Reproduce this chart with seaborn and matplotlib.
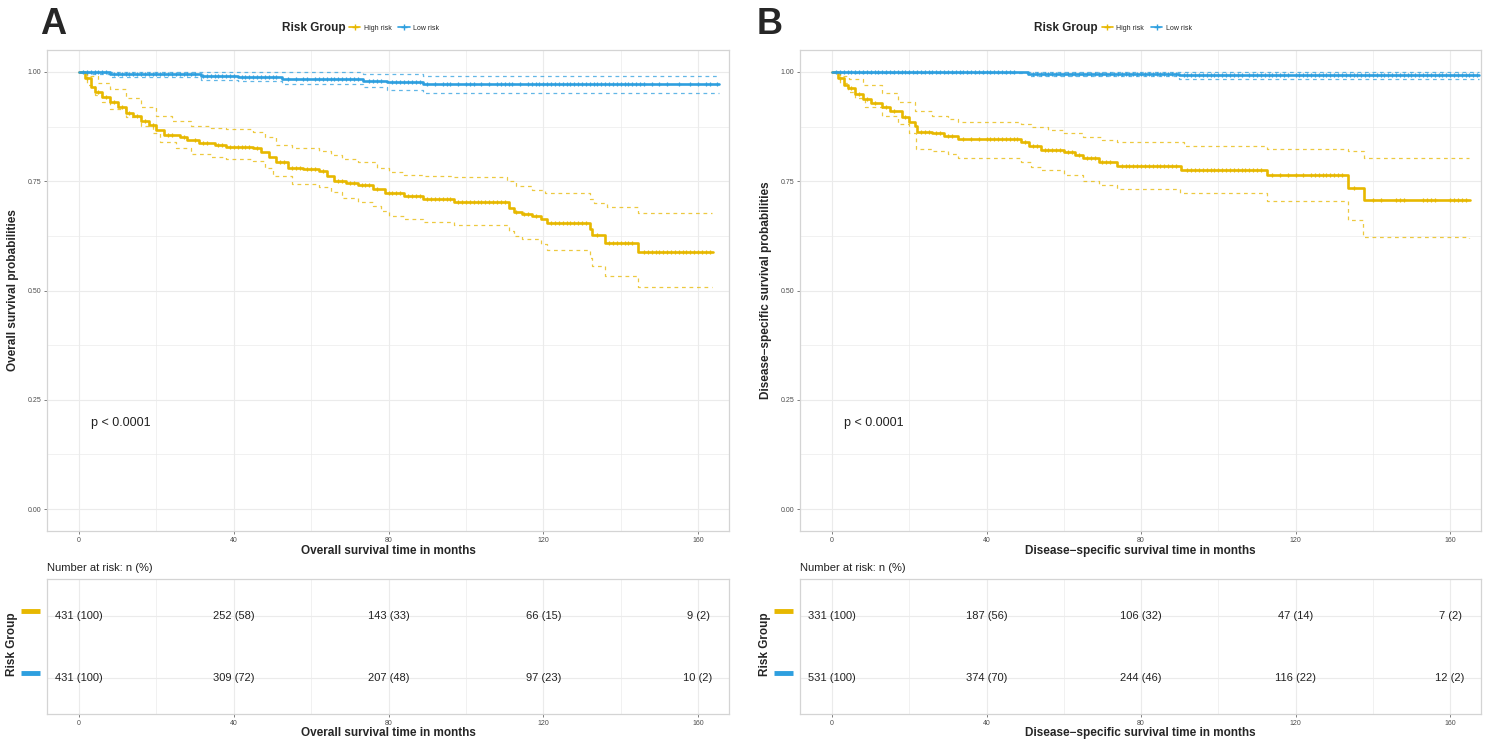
import numpy as np
import pandas as pd
import matplotlib
matplotlib.use("Agg")
import matplotlib.pyplot as plt
import matplotlib.transforms as mtrans
from matplotlib.lines import Line2D
import seaborn as sns

# -----------------------------
# Data
# -----------------------------
YELLOW = "#E7B800"
BLUE = "#2E9FDF"
groups = ["High risk", "Low risk"]
risk_times = [0, 40, 80, 120, 160]

# Panel A: overall survival
a_high_t = [0, 1.5, 3, 4, 6, 8, 10, 12, 14, 16, 18, 20, 22, 26, 28, 31, 35, 38, 45, 47, 49, 51, 54, 58,
            62, 64, 66, 69, 72, 76, 79, 84, 89, 97, 111, 112.5, 114.5, 117, 119.5, 121, 132, 132.5, 136,
            144.5, 163.8]
a_high_s = [1.0, 0.985, 0.965, 0.955, 0.942, 0.93, 0.92, 0.907, 0.898, 0.888, 0.878, 0.866, 0.855, 0.852,
            0.845, 0.837, 0.832, 0.829, 0.825, 0.816, 0.805, 0.793, 0.781, 0.779, 0.773, 0.762, 0.75, 0.745,
            0.741, 0.731, 0.722, 0.715, 0.709, 0.703, 0.688, 0.68, 0.676, 0.67, 0.663, 0.655, 0.64, 0.626,
            0.609, 0.589, 0.589]
a_high_up_t = [0, 2, 5, 8, 12, 16, 20, 24, 29, 34, 38, 45, 48, 51, 55, 62, 65, 68, 72, 77, 80, 84, 89, 97,
               110.5, 113, 117, 120.5, 132, 133, 136.5, 144.5, 163.5]
a_high_up_s = [1.0, 0.99, 0.975, 0.96, 0.94, 0.92, 0.898, 0.888, 0.877, 0.872, 0.869, 0.862, 0.85, 0.832,
               0.825, 0.82, 0.81, 0.80, 0.795, 0.781, 0.771, 0.765, 0.762, 0.759, 0.75, 0.739, 0.73, 0.722,
               0.71, 0.701, 0.691, 0.678, 0.678]
a_high_lo_t = [0, 2, 4, 6, 8, 12, 16, 19, 21, 25, 29, 34, 38, 45, 48, 50, 55, 62, 65, 68, 72, 76, 78, 80,
               84, 89, 97, 111, 112.5, 114.5, 119.5, 121, 132, 132.5, 136, 144.5, 163.5]
a_high_lo_s = [1.0, 0.97, 0.946, 0.93, 0.915, 0.897, 0.877, 0.86, 0.839, 0.825, 0.812, 0.805, 0.80, 0.797,
               0.78, 0.762, 0.743, 0.736, 0.725, 0.712, 0.703, 0.693, 0.682, 0.67, 0.663, 0.657, 0.65, 0.635,
               0.625, 0.617, 0.606, 0.592, 0.575, 0.556, 0.534, 0.508, 0.508]
a_low_t = [0, 8, 31.5, 41, 52.5, 73.5, 79.5, 88.8, 165.5]
a_low_s = [1.0, 0.995, 0.991, 0.988, 0.984, 0.979, 0.977, 0.972, 0.972]
a_low_up_t = [0, 31.5, 73.5, 88.8, 165.5]
a_low_up_s = [1.0, 0.999, 0.995, 0.991, 0.991]
a_low_lo_t = [0, 3, 8, 31.5, 41, 52.5, 73.5, 79.5, 88.8, 165.5]
a_low_lo_s = [1.0, 0.995, 0.988, 0.982, 0.978, 0.972, 0.965, 0.959, 0.951, 0.951]
a_high_cens = [2, 5, 7, 9, 11, 13, 15, 17, 19, 23, 24, 27, 30, 32, 33, 36, 37, 39, 40, 41, 42, 43, 44, 46,
               52, 53, 55, 56, 57, 59, 60, 61, 63, 67, 68, 70, 71, 73, 74, 75, 77, 80, 81, 82, 83, 85, 86,
               87, 88, 90, 91, 92, 93, 94, 95, 96, 98, 99, 100, 101, 102, 103, 104, 105, 106, 107, 108, 109,
               110, 113, 115, 116, 118, 122, 123, 124, 125, 126, 127, 128, 129, 130, 131, 134, 137, 138,
               139, 140, 141, 142, 143, 146, 147, 148, 149, 150, 151, 152, 153, 154, 155, 156, 157, 158,
               159, 160, 161, 162, 163]
a_low_cens = [1, 2, 3, 4, 5, 6, 7, 9, 10, 11, 12, 13, 14, 15, 16, 17, 18, 19, 20, 21, 22, 23, 24, 25, 26,
              27, 28, 29, 30, 32, 33, 34, 35, 36, 37, 38, 39, 40, 42, 43, 44, 45, 46, 47, 48, 49, 50, 51, 54,
              56, 58, 59, 61, 62, 63, 64, 65, 66, 67, 68, 69, 70, 71, 72, 75, 76, 77, 78, 81, 82, 83, 84, 85,
              86, 87, 88, 90, 92, 94, 95, 96, 98, 100, 101, 102, 104, 106, 108, 109, 110, 111, 112, 114, 116,
              117, 118, 119, 120, 121, 122, 123, 124, 125, 126, 127, 128, 129, 130, 131, 132, 133, 134, 135,
              136, 137, 138, 139, 140, 141, 142, 143, 144, 145, 146, 148, 150, 152, 155, 158, 160, 162, 163,
              165]
a_risk_high = ["431 (100)", "252 (58)", "143 (33)", "66 (15)", "9 (2)"]
a_risk_low = ["431 (100)", "309 (72)", "207 (48)", "97 (23)", "10 (2)"]

# Panel B: disease-specific survival
b_high_t = [0, 1.5, 3, 4.2, 6, 8, 10, 13, 15, 18, 20, 21.5, 22, 26, 29, 32.5, 49, 51, 54, 60, 63, 65, 69,
            73.8, 90.4, 112.7, 133.6, 137.6, 165.2]
b_high_s = [1.0, 0.985, 0.97, 0.962, 0.95, 0.938, 0.928, 0.919, 0.91, 0.896, 0.885, 0.877, 0.863, 0.861,
            0.853, 0.846, 0.84, 0.831, 0.821, 0.816, 0.81, 0.803, 0.795, 0.785, 0.776, 0.763, 0.734, 0.707,
            0.707]
b_high_up_t = [0, 2, 4.5, 8, 13, 17, 21.5, 26, 30, 32.5, 49, 51.5, 56, 60, 65, 70, 73.8, 91, 112.7, 133.6,
               137.8, 165]
b_high_up_s = [1.0, 0.99, 0.983, 0.97, 0.951, 0.93, 0.911, 0.9, 0.892, 0.886, 0.88, 0.873, 0.868, 0.861,
               0.852, 0.845, 0.839, 0.831, 0.824, 0.818, 0.804, 0.804]
b_high_lo_t = [0, 2, 4.2, 6, 8.5, 13, 17, 20, 21.8, 26, 30, 32.5, 49, 51.5, 54, 60, 65, 69, 73.8, 90, 112.5,
               133.6, 137.4, 165]
b_high_lo_s = [1.0, 0.975, 0.955, 0.94, 0.919, 0.9, 0.881, 0.86, 0.824, 0.818, 0.812, 0.804, 0.795, 0.782,
               0.775, 0.763, 0.751, 0.742, 0.732, 0.722, 0.705, 0.661, 0.622, 0.621]
b_low_t = [0, 50.8, 89.9, 167.5]
b_low_s = [1.0, 0.996, 0.993, 0.993]
b_low_up_t = [0, 167.5]
b_low_up_s = [1.0, 1.0]
b_low_lo_t = [0, 5, 50.8, 89.9, 167.5]
b_low_lo_s = [1.0, 0.997, 0.99, 0.983, 0.983]
b_high_cens = [2, 5, 7, 9, 11, 14, 16, 19, 23, 24, 25, 27, 28, 30, 31, 34, 36, 38, 40, 41, 42, 43, 44, 45,
               46, 47, 48, 50, 52, 53, 55, 56, 57, 58, 59, 61, 62, 64, 66, 67, 68, 70, 71, 72, 75, 76, 77,
               78, 79, 80, 81, 82, 83, 84, 85, 86, 87, 88, 89, 92, 93, 94, 95, 96, 97, 98, 99, 100, 101,
               102, 103, 104, 105, 106, 107, 108, 109, 110, 111, 114, 116, 118, 120, 122, 124, 125, 126,
               127, 128, 129, 130, 131, 132, 135, 140, 142, 146, 147, 148, 153, 154, 155, 156, 160, 161,
               162, 163, 164]
b_low_cens = [1, 2, 3, 4, 5, 6, 7, 8, 9, 10, 11, 12, 13, 14, 15, 16, 17, 18, 19, 20, 21, 22, 23, 24, 25,
              26, 27, 28, 29, 30, 31, 32, 33, 34, 35, 36, 37, 38, 39, 40, 41, 42, 43, 44, 45, 46, 47, 52,
              53, 54, 55, 56, 57, 58, 59, 60, 61, 62, 63, 64, 65, 66, 67, 68, 69, 70, 71, 72, 73, 74, 75,
              76, 77, 78, 79, 80, 81, 82, 83, 84, 85, 86, 87, 88, 89, 91, 92, 93, 94, 95, 96, 97, 98, 99,
              100, 101, 102, 103, 104, 105, 106, 108, 109, 110, 111, 112, 113, 114, 115, 116, 117, 118,
              120, 121, 122, 123, 124, 125, 126, 127, 128, 129, 130, 131, 132, 133, 134, 135, 136, 137,
              138, 139, 140, 141, 142, 143, 144, 145, 146, 147, 148, 149, 150, 151, 152, 153, 154, 155,
              156, 157, 158, 159, 160, 161, 162, 163, 164, 165, 166, 167]
b_risk_high = ["331 (100)", "187 (56)", "106 (32)", "47 (14)", "7 (2)"]
b_risk_low = ["531 (100)", "374 (70)", "244 (46)", "116 (22)", "12 (2)"]

# -----------------------------
# Style
# -----------------------------
sns.set_theme(style="white")
plt.rcParams['font.family'] = ['Liberation Sans', 'DejaVu Sans']

W, H = 1489, 740
fig = plt.figure(figsize=(W / 100, H / 100), dpi=100)
GRID = "#EBEBEB"
BORDER = "#D4D4D4"
TICKC = "#4D4D4D"


def px_axes(x0, x1, y0, y1):
    return fig.add_axes([x0 / W, 1 - y1 / H, (x1 - x0) / W, (y1 - y0) / H])


def style_axes(ax):
    ax.set_xlim(-8.3, 168)
    ax.set_xticks(risk_times)
    ax.set_xticks([20, 60, 100, 140], minor=True)
    ax.grid(True, which="major", color=GRID, lw=0.8)
    ax.grid(True, which="minor", color=GRID, lw=0.5)
    ax.set_axisbelow(True)
    for s in ax.spines.values():
        s.set_color(BORDER)
        s.set_linewidth(0.9)
    ax.tick_params(axis="both", which="major", labelsize=5, colors=TICKC, length=2, width=0.5,
                   bottom=True, left=True, pad=2)
    ax.tick_params(axis="both", which="minor", length=0)


def step_line(ax, t, s, color, dashed=False):
    d = pd.DataFrame({"time": t, "surv": s})
    if dashed:
        sns.lineplot(data=d, x="time", y="surv", ax=ax, color=color, estimator=None, sort=False,
                     drawstyle="steps-post", lw=0.9, alpha=0.75, linestyle=(0, (3, 3)))
    else:
        sns.lineplot(data=d, x="time", y="surv", ax=ax, color=color, estimator=None, sort=False,
                     drawstyle="steps-post", lw=1.9)


def censor_marks(ax, t, s, cens, color):
    t = np.asarray(t)
    s = np.asarray(s)
    idx = np.searchsorted(t, cens, side="right") - 1
    ax.plot(cens, s[idx], linestyle="none", marker="+", ms=3.5, mew=0.9, color=color, zorder=4)


def panel(x0, x1, letter, letter_x, curves, ylabel, xlabel, risk_high, risk_low):
    w = x1 - x0
    ax = px_axes(x0, x1, 50, 531)
    style_axes(ax)
    hi, lo = curves
    for (t, s, ut, us, lt, ls, cens), col in ((hi, YELLOW), (lo, BLUE)):
        step_line(ax, ut, us, col, dashed=True)
        step_line(ax, lt, ls, col, dashed=True)
    for (t, s, ut, us, lt, ls, cens), col in ((hi, YELLOW), (lo, BLUE)):
        step_line(ax, t, s, col)
        censor_marks(ax, t, s, cens, col)
    ax.set_ylim(-0.05, 1.05)
    ax.set_yticks([0, 0.25, 0.5, 0.75, 1.0])
    ax.set_yticklabels(["0.00", "0.25", "0.50", "0.75", "1.00"])
    ax.set_yticks([0.125, 0.375, 0.625, 0.875], minor=True)
    ax.set_xlabel(xlabel, fontsize=8.5, weight="bold", labelpad=1)
    ax.set_ylabel(ylabel, fontsize=8.5, weight="bold")
    ax.yaxis.set_label_coords(-28 / w, 0.5)
    ax.text(3, 0.197, "p < 0.0001", fontsize=9, ha="left", va="center", color="#222222")

    # legend on top
    cx = x0 + w * 0.443
    fig.text((cx - 4) / W, 1 - 28 / H, "Risk Group", fontsize=8.5, weight="bold", ha="right",
             va="center")
    handles = [Line2D([0], [0], color=YELLOW, lw=1.2, marker="+", ms=4),
               Line2D([0], [0], color=BLUE, lw=1.2, marker="+", ms=4)]
    fig.legend(handles, groups, loc="center left", bbox_to_anchor=(cx / W, 1 - 28 / H), ncol=2,
               frameon=False, fontsize=5, handlelength=1.6, handletextpad=0.5, columnspacing=1.0,
               borderpad=0, borderaxespad=0)
    fig.text(letter_x / W, 1 - 24 / H, letter, fontsize=26, weight="bold", ha="left", va="center")

    # risk table
    tb = px_axes(x0, x1, 579, 714)
    style_axes(tb)
    tb.set_ylim(0.42, 2.6)
    tb.set_yticks([1, 2])
    tb.set_yticklabels(["", ""])
    tb.tick_params(axis="y", length=0)
    tb.grid(True, axis="y", color=GRID, lw=0.8)
    for tm, lab in zip(risk_times, risk_high):
        tb.text(tm, 2, lab, ha="center", va="center", fontsize=8, color="#222222")
    for tm, lab in zip(risk_times, risk_low):
        tb.text(tm, 1, lab, ha="center", va="center", fontsize=8, color="#222222")
    trans = mtrans.blended_transform_factory(tb.transAxes, tb.transData)
    bx = [-26 / w, -7 / w]
    tb.plot(bx, [2.08, 2.08], color=YELLOW, lw=3.5, solid_capstyle="butt", transform=trans,
            clip_on=False)
    tb.plot(bx, [1.08, 1.08], color=BLUE, lw=3.5, solid_capstyle="butt", transform=trans,
            clip_on=False)
    tb.set_ylabel("Risk Group", fontsize=8.5, weight="bold")
    tb.yaxis.set_label_coords(-29 / w, 0.52)
    tb.set_xlabel(xlabel, fontsize=8.5, weight="bold", labelpad=0)
    fig.text(x0 / W, 1 - 568 / H, "Number at risk: n (%)", fontsize=8, ha="left", va="center",
             color="#222222")
    return ax, tb


ax_a, tb_a = panel(47, 729, "A", 40,
                   ((a_high_t, a_high_s, a_high_up_t, a_high_up_s, a_high_lo_t, a_high_lo_s, a_high_cens),
                    (a_low_t, a_low_s, a_low_up_t, a_low_up_s, a_low_lo_t, a_low_lo_s, a_low_cens)),
                   "Overall survival probabilities", "Overall survival time in months",
                   a_risk_high, a_risk_low)
ax_b, tb_b = panel(800, 1481, "B", 757,
                   ((b_high_t, b_high_s, b_high_up_t, b_high_up_s, b_high_lo_t, b_high_lo_s, b_high_cens),
                    (b_low_t, b_low_s, b_low_up_t, b_low_up_s, b_low_lo_t, b_low_lo_s, b_low_cens)),
                   "Disease\u2212specific survival probabilities",
                   "Disease\u2212specific survival time in months",
                   b_risk_high, b_risk_low)

fig.savefig("out.png", dpi=100)
